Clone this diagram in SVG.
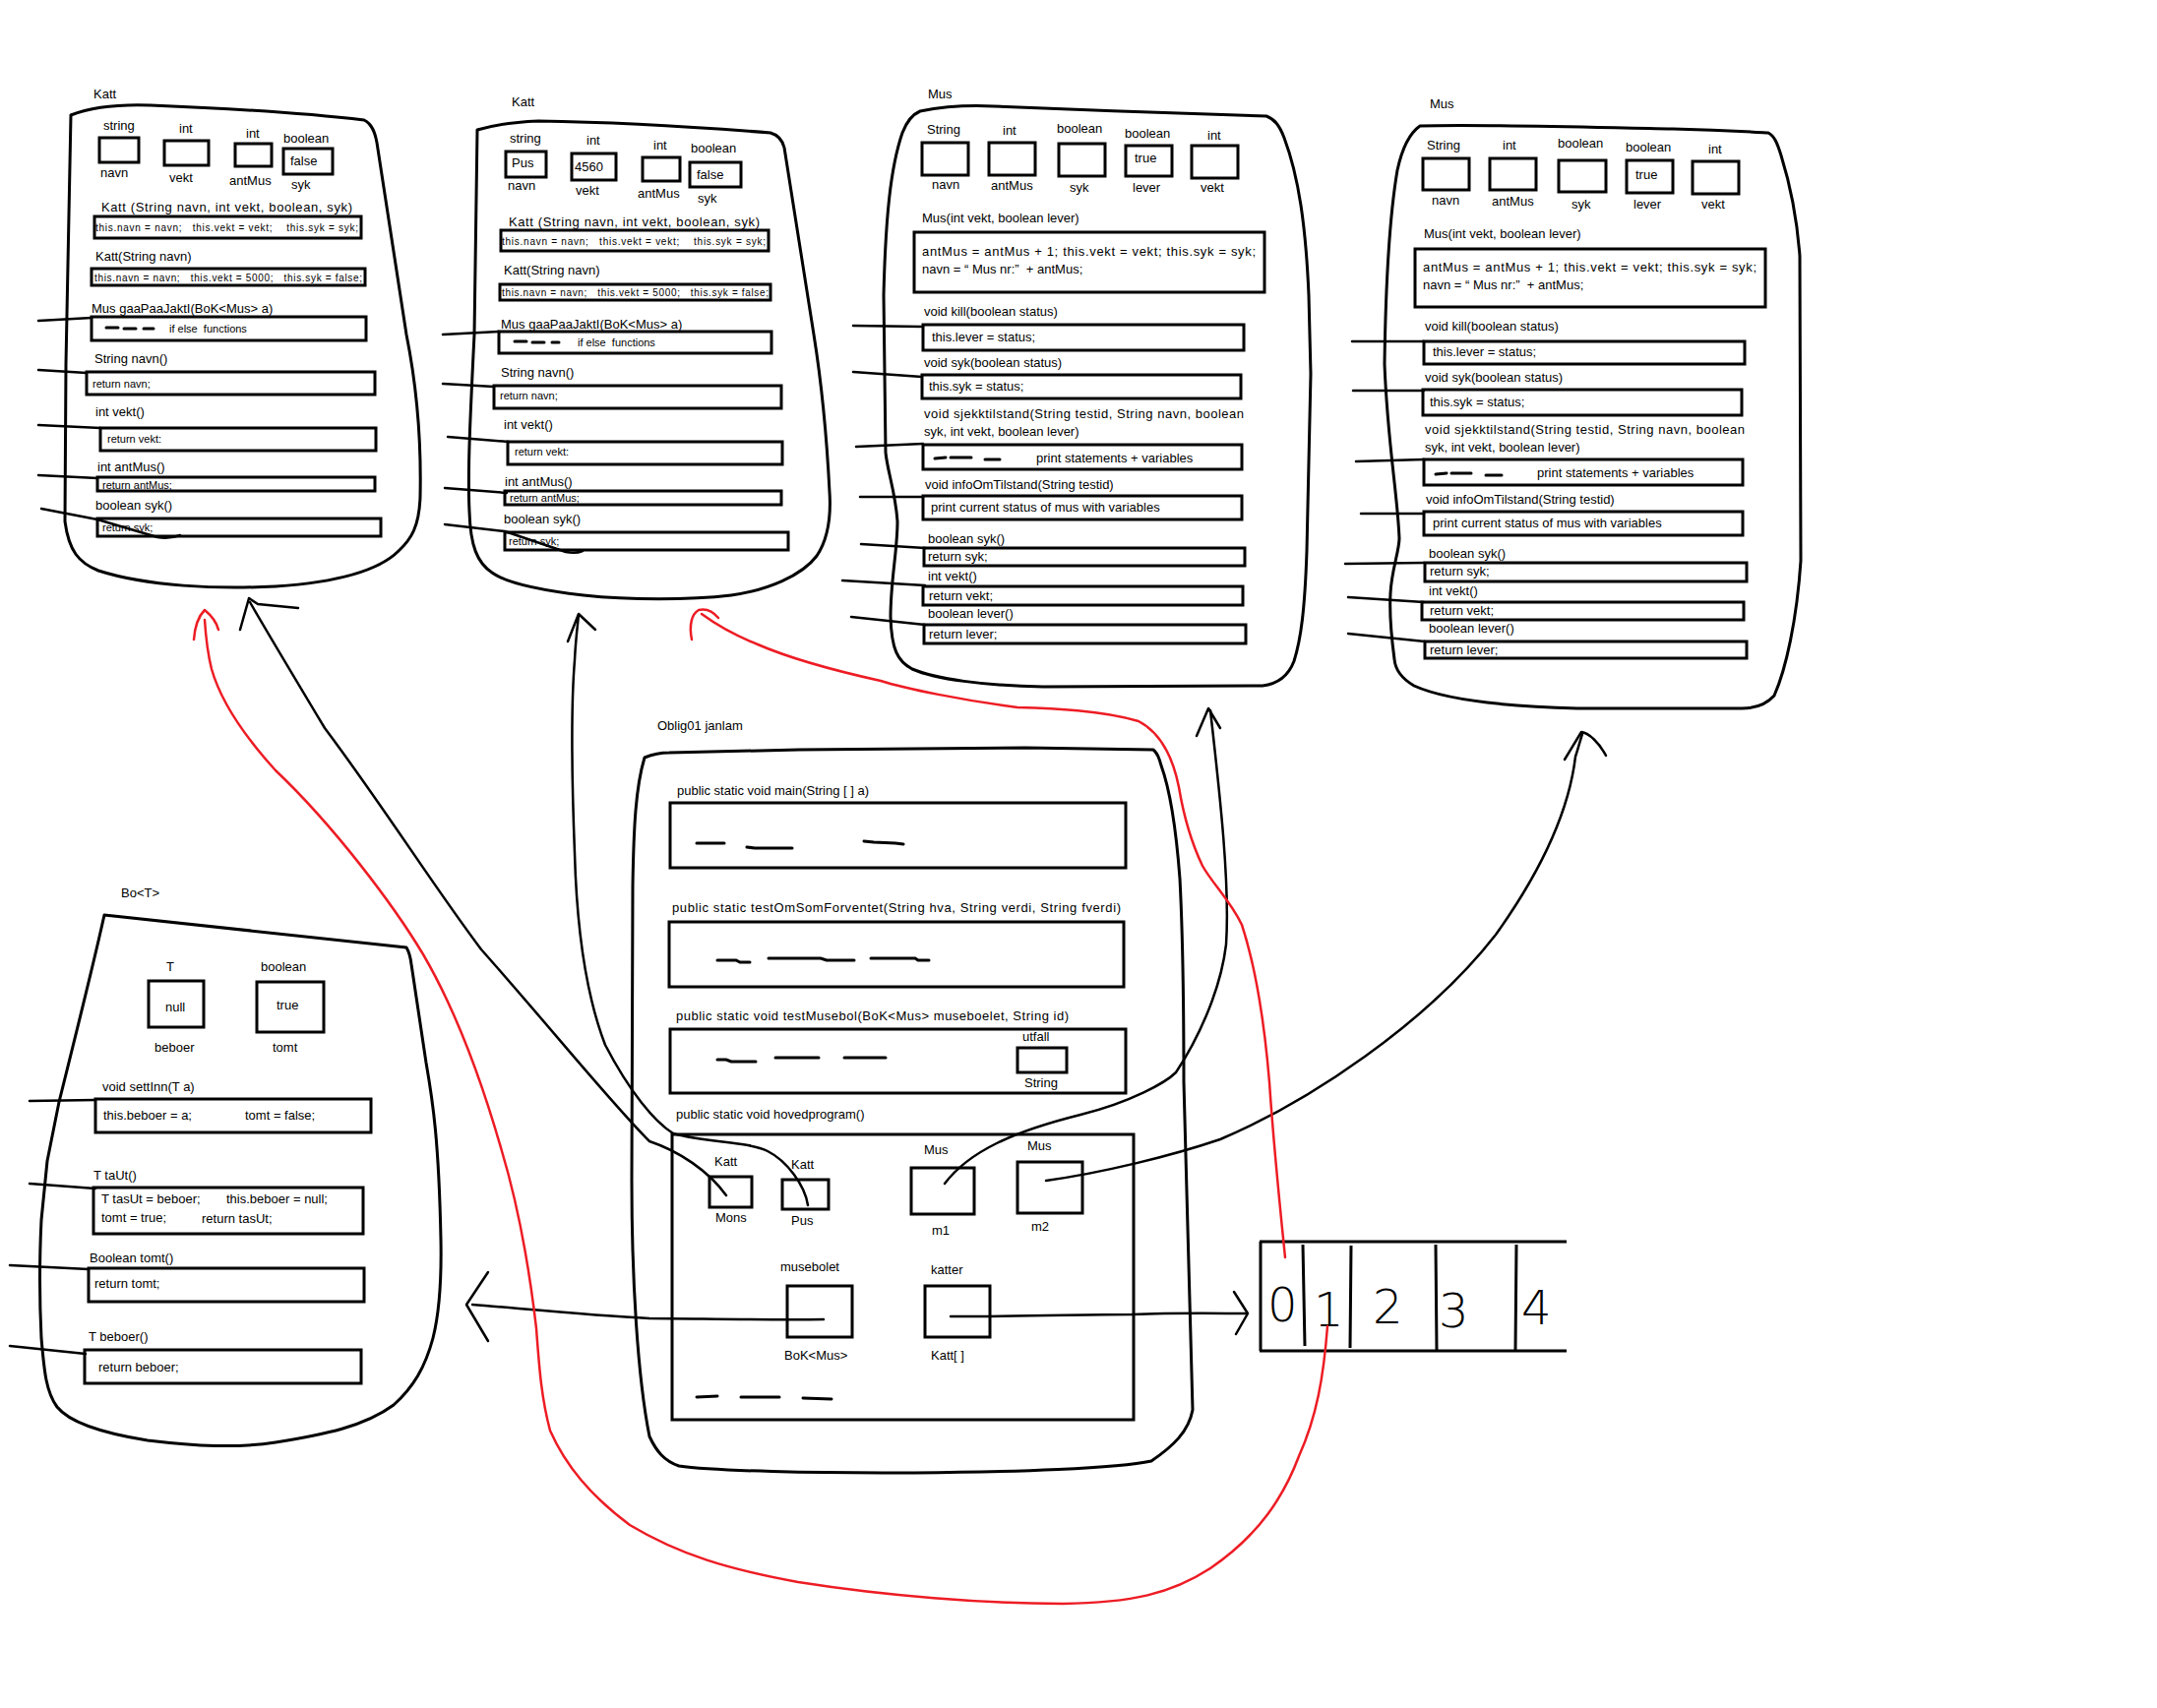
<svg xmlns="http://www.w3.org/2000/svg" width="2192" height="1736" viewBox="0 0 2192 1736">
<style>
text{font-family:"Liberation Sans",Arial,sans-serif;font-size:13px;fill:#000}
.s{font-size:11px}
.xs{font-size:10px}
.o{fill:none;stroke:#000;stroke-width:3;stroke-linejoin:round;stroke-linecap:round}
.b{fill:none;stroke:#000;stroke-width:3}
.c{fill:none;stroke:#000;stroke-width:2.5;stroke-linecap:round;stroke-linejoin:round}
.r{fill:none;stroke:#ed1c24;stroke-width:2.5;stroke-linecap:round;stroke-linejoin:round}
.d{fill:none;stroke:#000;stroke-width:3;stroke-linecap:round}
.dg{font-size:48px;font-family:"DejaVu Sans",sans-serif;font-weight:200}
</style>
<rect width="2192" height="1736" fill="#fff"/>

<g id="katt1">
<text x="95" y="100">Katt</text>
<path class="o" d="M72,117 C95,108 125,106 153,107 C230,110 320,116 370,122 C378,126 381,134 383,145 L413,340 C425,400 428,460 427,505 C426,535 418,548 405,560 C385,580 340,592 280,596 C220,599 150,596 100,580 C80,572 70,560 66,530 L67,370 Z"/>
<text x="105" y="132">string</text><rect class="b" x="101" y="140" width="40" height="25"/><text x="102" y="180">navn</text>
<text x="182" y="135">int</text><rect class="b" x="167" y="143" width="45" height="25"/><text x="172" y="185">vekt</text>
<text x="250" y="140">int</text><rect class="b" x="239" y="146" width="37" height="23"/><text x="233" y="188">antMus</text>
<text x="288" y="145">boolean</text><rect class="b" x="288" y="151" width="50" height="26"/><text x="295" y="168">false</text><text x="296" y="192">syk</text>
<text x="103" y="215" textLength="255">Katt (String navn, int vekt, boolean, syk)</text>
<rect class="b" x="96" y="220" width="271" height="22"/><text class="xs" x="97" y="235" textLength="267" xml:space="preserve">this.navn = navn;   this.vekt = vekt;    this.syk = syk;</text>
<text x="97" y="265">Katt(String navn)</text>
<rect class="b" x="93" y="273" width="278" height="17"/><text class="xs" x="96" y="286" textLength="272" xml:space="preserve">this.navn = navn;   this.vekt = 5000;   this.syk = false;</text>
<text x="93" y="318">Mus gaaPaaJaktI(BoK&lt;Mus&gt; a)</text>
<rect class="b" x="93" y="322" width="279" height="24"/><path class="d" d="M108,333 L120,333 M126,334 L138,334 M146,334 L156,334"/><text class="s" x="172" y="338" xml:space="preserve">if else  functions</text>
<text x="96" y="369">String navn()</text>
<rect class="b" x="88" y="378" width="293" height="23"/><text class="s" x="94" y="394">return navn;</text>
<text x="97" y="423">int vekt()</text>
<rect class="b" x="102" y="435" width="280" height="23"/><text class="s" x="109" y="450">return vekt:</text>
<text x="99" y="479">int antMus()</text>
<rect class="b" x="99" y="485" width="282" height="14"/><text class="s" x="104" y="497">return antMus;</text>
<text x="97" y="518">boolean syk()</text>
<rect class="b" x="99" y="527" width="288" height="18"/><text class="s" x="104" y="540">return syk;</text>
</g>

<g id="katt2">
<text x="520" y="108">Katt</text>
<path class="o" d="M485,132 C505,126 525,124 547,123 C620,124 720,130 783,135 C790,137 795,142 797,150 L827,340 C835,390 840,440 843,500 C845,530 840,550 830,565 C815,585 780,600 743,605 C700,610 640,610 593,605 C550,600 515,593 500,582 C485,572 478,555 477,520 C475,480 478,420 482,340 Z"/>
<text x="518" y="145">string</text><rect class="b" x="514" y="154" width="41" height="26"/><text x="520" y="170">Pus</text><text x="516" y="193">navn</text>
<text x="596" y="147">int</text><rect class="b" x="581" y="156" width="45" height="27"/><text x="584" y="174">4560</text><text x="585" y="198">vekt</text>
<text x="664" y="152">int</text><rect class="b" x="653" y="160" width="38" height="24"/><text x="648" y="201">antMus</text>
<text x="702" y="155">boolean</text><rect class="b" x="701" y="165" width="52" height="25"/><text x="708" y="182">false</text><text x="709" y="206">syk</text>
<text x="517" y="230" textLength="255">Katt (String navn, int vekt, boolean, syk)</text>
<rect class="b" x="509" y="234" width="272" height="21"/><text class="xs" x="510" y="249" textLength="268" xml:space="preserve">this.navn = navn;   this.vekt = vekt;    this.syk = syk;</text>
<text x="512" y="279">Katt(String navn)</text>
<rect class="b" x="508" y="289" width="275" height="16"/><text class="xs" x="510" y="301" textLength="271" xml:space="preserve">this.navn = navn;   this.vekt = 5000;   this.syk = false;</text>
<text x="509" y="334">Mus gaaPaaJaktI(BoK&lt;Mus&gt; a)</text>
<rect class="b" x="507" y="337" width="277" height="22"/><path class="d" d="M523,347 L535,347 M541,348 L553,348 M561,348 L568,348"/><text class="s" x="587" y="352" xml:space="preserve">if else  functions</text>
<text x="509" y="383">String navn()</text>
<rect class="b" x="502" y="392" width="292" height="23"/><text class="s" x="508" y="406">return navn;</text>
<text x="512" y="436">int vekt()</text>
<rect class="b" x="516" y="449" width="279" height="23"/><text class="s" x="523" y="463">return vekt:</text>
<text x="513" y="494">int antMus()</text>
<rect class="b" x="513" y="499" width="281" height="14"/><text class="s" x="518" y="510">return antMus;</text>
<text x="512" y="532">boolean syk()</text>
<rect class="b" x="513" y="541" width="288" height="18"/><text class="s" x="517" y="554">return syk;</text>
</g>

<g id="mus1">
<text x="943" y="100">Mus</text>
<path class="o" d="M935,113 C960,108 990,107 1010,108 C1100,112 1200,115 1287,118 C1295,121 1300,127 1305,140 C1320,180 1327,230 1330,300 L1332,380 L1328,560 C1326,620 1322,650 1315,672 C1310,685 1300,695 1283,697 L1060,698 C1000,697 950,690 927,680 C912,672 906,660 905,627 C905,590 912,560 912,530 C910,500 902,480 900,460 L898,300 C900,220 905,170 917,135 C922,122 928,116 935,113 Z"/>
<text x="942" y="136">String</text><rect class="b" x="937" y="145" width="47" height="33"/><text x="947" y="192">navn</text>
<text x="1019" y="137">int</text><rect class="b" x="1005" y="145" width="47" height="33"/><text x="1007" y="193">antMus</text>
<text x="1074" y="135">boolean</text><rect class="b" x="1076" y="146" width="47" height="33"/><text x="1087" y="195">syk</text>
<text x="1143" y="140">boolean</text><rect class="b" x="1144" y="148" width="47" height="31"/><text x="1153" y="165">true</text><text x="1151" y="195">lever</text>
<text x="1227" y="142">int</text><rect class="b" x="1211" y="148" width="47" height="33"/><text x="1220" y="195">vekt</text>
<text x="937" y="226">Mus(int vekt, boolean lever)</text>
<rect class="b" x="929" y="236" width="356" height="61"/>
<text x="937" y="260" textLength="339">antMus = antMus + 1; this.vekt = vekt; this.syk = syk;</text>
<text x="937" y="278" xml:space="preserve">navn = “ Mus nr:”  + antMus;</text>
<text x="939" y="321">void kill(boolean status)</text>
<rect class="b" x="938" y="330" width="326" height="26"/><text x="947" y="347">this.lever = status;</text>
<text x="939" y="373">void syk(boolean status)</text>
<rect class="b" x="937" y="381" width="324" height="24"/><text x="944" y="397">this.syk = status;</text>
<text x="939" y="425" textLength="325">void sjekktilstand(String testid, String navn, boolean</text>
<text x="939" y="443">syk, int vekt, boolean lever)</text>
<rect class="b" x="938" y="452" width="324" height="25"/><path class="d" d="M950,466 L961,465 M966,465 L987,465 M1001,467 L1016,467"/><text x="1053" y="470">print statements + variables</text>
<text x="940" y="497">void infoOmTilstand(String testid)</text>
<rect class="b" x="938" y="504" width="324" height="24"/><text x="946" y="520">print current status of mus with variables</text>
<text x="943" y="552">boolean syk()</text>
<rect class="b" x="939" y="557" width="326" height="18"/><text x="943" y="570">return syk;</text>
<text x="943" y="590">int vekt()</text>
<rect class="b" x="938" y="596" width="325" height="19"/><text x="944" y="610">return vekt;</text>
<text x="943" y="628">boolean lever()</text>
<rect class="b" x="939" y="635" width="327" height="19"/><text x="944" y="649">return lever;</text>
</g>

<g id="mus2">
<text x="1453" y="110">Mus</text>
<path class="o" d="M1443,128 C1500,126 1600,129 1700,131 C1750,132 1780,134 1797,135 C1803,138 1806,145 1810,158 C1820,190 1826,220 1829,260 L1830,570 C1826,630 1815,680 1803,707 C1795,716 1785,720 1770,720 L1603,720 C1530,718 1470,712 1437,697 C1425,690 1418,682 1417,670 C1413,640 1412,620 1413,603 C1414,580 1422,560 1422,547 C1420,500 1410,450 1407,370 C1408,300 1412,220 1420,173 C1425,150 1433,135 1443,128 Z"/>
<text x="1450" y="152">String</text><rect class="b" x="1446" y="161" width="47" height="32"/><text x="1455" y="208">navn</text>
<text x="1527" y="152">int</text><rect class="b" x="1514" y="161" width="47" height="32"/><text x="1516" y="209">antMus</text>
<text x="1583" y="150">boolean</text><rect class="b" x="1584" y="163" width="48" height="32"/><text x="1597" y="212">syk</text>
<text x="1652" y="154">boolean</text><rect class="b" x="1653" y="163" width="47" height="33"/><text x="1662" y="182">true</text><text x="1660" y="212">lever</text>
<text x="1736" y="156">int</text><rect class="b" x="1720" y="164" width="47" height="33"/><text x="1729" y="212">vekt</text>
<text x="1447" y="242">Mus(int vekt, boolean lever)</text>
<rect class="b" x="1438" y="253" width="356" height="59"/>
<text x="1446" y="276" textLength="339">antMus = antMus + 1; this.vekt = vekt; this.syk = syk;</text>
<text x="1446" y="294" xml:space="preserve">navn = “ Mus nr:”  + antMus;</text>
<text x="1448" y="336">void kill(boolean status)</text>
<rect class="b" x="1447" y="347" width="326" height="23"/><text x="1456" y="362">this.lever = status;</text>
<text x="1448" y="388">void syk(boolean status)</text>
<rect class="b" x="1446" y="396" width="324" height="26"/><text x="1453" y="413">this.syk = status;</text>
<text x="1448" y="441" textLength="325">void sjekktilstand(String testid, String navn, boolean</text>
<text x="1448" y="459">syk, int vekt, boolean lever)</text>
<rect class="b" x="1447" y="467" width="324" height="26"/><path class="d" d="M1459,482 L1470,481 M1475,481 L1495,481 M1510,483 L1526,483"/><text x="1562" y="485">print statements + variables</text>
<text x="1449" y="512">void infoOmTilstand(String testid)</text>
<rect class="b" x="1447" y="520" width="324" height="24"/><text x="1456" y="536">print current status of mus with variables</text>
<text x="1452" y="567">boolean syk()</text>
<rect class="b" x="1448" y="572" width="327" height="19"/><text x="1453" y="585">return syk;</text>
<text x="1452" y="605">int vekt()</text>
<rect class="b" x="1445" y="612" width="327" height="18"/><text x="1453" y="625">return vekt;</text>
<text x="1452" y="643">boolean lever()</text>
<rect class="b" x="1448" y="652" width="327" height="17"/><text x="1453" y="665">return lever;</text>
</g>

<g id="bo">
<text x="123" y="912">Bo&lt;T&gt;</text>
<path class="o" d="M106,930 L413,963 C416,968 417,972 418,980 L433,1080 C440,1120 446,1160 448,1260 C449,1310 445,1340 440,1360 C432,1390 420,1410 400,1428 C370,1450 330,1458 280,1466 C240,1472 200,1470 150,1464 C100,1456 70,1445 58,1430 C47,1415 45,1395 42,1360 C40,1320 40,1280 42,1240 L48,1180 L60,1120 C75,1060 95,980 106,930 Z"/>
<text x="169" y="987">T</text><rect class="b" x="151" y="997" width="56" height="47"/><text x="168" y="1028">null</text><text x="157" y="1069">beboer</text>
<text x="265" y="987">boolean</text><rect class="b" x="261" y="998" width="68" height="51"/><text x="281" y="1026">true</text><text x="277" y="1069">tomt</text>
<text x="104" y="1109">void settInn(T a)</text>
<rect class="b" x="97" y="1117" width="280" height="34"/><text x="105" y="1138">this.beboer = a;</text><text x="249" y="1138">tomt = false;</text>
<text x="95" y="1199">T taUt()</text>
<rect class="b" x="95" y="1207" width="274" height="47"/>
<text x="103" y="1223">T tasUt = beboer;</text><text x="230" y="1223">this.beboer = null;</text>
<text x="103" y="1242">tomt = true;</text><text x="205" y="1243">return tasUt;</text>
<text x="91" y="1283">Boolean tomt()</text>
<rect class="b" x="90" y="1289" width="280" height="34"/><text x="96" y="1309">return tomt;</text>
<text x="90" y="1363">T beboer()</text>
<rect class="b" x="86" y="1372" width="281" height="34"/><text x="100" y="1394">return beboer;</text>
</g>

<g id="oblig01">
<text x="668" y="742">Oblig01 janlam</text>
<path class="o" d="M655,770 C665,766 672,765 680,765 L812,762 L1042,760 L1172,762 C1176,765 1178,770 1180,778 C1188,800 1195,840 1199,893 C1202,950 1203,1030 1203,1100 L1212,1433 C1208,1455 1192,1470 1170,1485 C1100,1500 760,1500 690,1490 C675,1485 667,1475 660,1460 C648,1400 642,1300 642,1200 L643,900 C644,840 646,800 655,770 Z"/>
<text x="688" y="808">public static void main(String [ ] a)</text>
<rect class="b" x="681" y="816" width="463" height="66"/>
<path class="d" d="M708,857 L736,857 M759,861 L767,862 L805,862 M878,855 L888,856 L910,857 L918,858"/>
<text x="683" y="927" textLength="456">public static testOmSomForventet(String hva, String verdi, String fverdi)</text>
<rect class="b" x="680" y="937" width="462" height="66"/>
<path class="d" d="M729,976 L748,976 L752,978 L762,978 M781,974 L834,974 L840,976 L868,976 M885,974 L930,974 L933,976 L944,976"/>
<text x="687" y="1037" textLength="399">public static void testMusebol(BoK&lt;Mus&gt; museboelet, String id)</text>
<rect class="b" x="681" y="1046" width="463" height="65"/>
<path class="d" d="M729,1077 L738,1077 L743,1079 L768,1079 M788,1075 L832,1075 M858,1075 L900,1075"/>
<text x="1039" y="1058">utfall</text>
<rect class="b" x="1034" y="1065" width="50" height="25"/>
<text x="1041" y="1105">String</text>
<text x="687" y="1137">public static void hovedprogram()</text>
<rect class="b" x="683" y="1153" width="469" height="290"/>
<text x="726" y="1185">Katt</text><rect class="b" x="721" y="1196" width="43" height="31"/><text x="727" y="1242">Mons</text>
<text x="804" y="1188">Katt</text><rect class="b" x="795" y="1199" width="47" height="30"/><text x="804" y="1245">Pus</text>
<text x="939" y="1173">Mus</text><rect class="b" x="926" y="1187" width="64" height="47"/><text x="947" y="1255">m1</text>
<text x="1044" y="1169">Mus</text><rect class="b" x="1034" y="1181" width="66" height="52"/><text x="1048" y="1251">m2</text>
<text x="793" y="1292">musebolet</text><rect class="b" x="800" y="1307" width="66" height="52"/><text x="797" y="1382">BoK&lt;Mus&gt;</text>
<text x="946" y="1295">katter</text><rect class="b" x="940" y="1307" width="66" height="52"/><text x="946" y="1382">Katt[ ]</text>
<path class="d" d="M708,1420 L729,1419 M753,1420 L792,1420 M816,1421 L845,1422"/>
</g>

<g id="array">
<path class="b" d="M1280,1262 L1592,1262 M1280,1373 L1592,1373 M1281,1262 L1281,1373 M1324,1265 L1326,1368 M1373,1266 L1372,1370 M1459,1265 L1460,1372 M1541,1265 L1540,1372"/>
<text class="dg" x="1288" y="1343">0</text>
<text class="dg" x="1335" y="1348">1</text>
<text class="dg" x="1395" y="1345">2</text>
<text class="dg" x="1462" y="1349">3</text>
<text class="dg" x="1546" y="1346">4</text>
</g>

<g id="connectors">
<path class="c" d="M39,326 L93,323"/>
<path class="c" d="M39,376 L88,379"/>
<path class="c" d="M39,432 L102,435"/>
<path class="c" d="M39,483 L99,486"/>
<path class="c" d="M42,517 L99,528 L160,546 Q172,548 183,544"/>
<path class="c" d="M450,340 L507,337"/>
<path class="c" d="M450,390 L502,393"/>
<path class="c" d="M455,444 L517,449"/>
<path class="c" d="M452,496 L515,501"/>
<path class="c" d="M452,533 L513,540 L575,561 Q585,563 592,560"/>
<path class="c" d="M867,331 L938,332"/>
<path class="c" d="M867,378 L937,383"/>
<path class="c" d="M870,454 L938,451"/>
<path class="c" d="M874,505 L938,505"/>
<path class="c" d="M875,553 L940,557"/>
<path class="c" d="M856,590 L940,595"/>
<path class="c" d="M865,627 L940,635"/>
<path class="c" d="M1374,347 L1447,347"/>
<path class="c" d="M1375,397 L1447,397"/>
<path class="c" d="M1378,469 L1447,467"/>
<path class="c" d="M1383,522 L1447,522"/>
<path class="c" d="M1367,573 L1447,572"/>
<path class="c" d="M1370,607 L1447,612"/>
<path class="c" d="M1370,644 L1448,652"/>
<path class="c" d="M30,1119 L97,1118"/>
<path class="c" d="M30,1203 L97,1208"/>
<path class="c" d="M10,1286 L90,1290"/>
<path class="c" d="M10,1368 L87,1376"/>
<path class="c" d="M738,1215 C720,1190 690,1170 660,1160 C620,1120 560,1045 489,965 C440,900 390,820 330,740 C300,690 270,640 254,612"/>
<path class="c" d="M244,640 L253,608 L262,614 L303,618"/>
<path class="c" d="M821,1225 C818,1205 800,1180 780,1170 C760,1160 720,1162 684,1152 C665,1140 640,1110 615,1062 C595,1010 586,940 584,867 C581,790 580,720 584,671 C585,650 587,635 588,625"/>
<path class="c" d="M577,652 L588,624 L605,640"/>
<path class="c" d="M960,1203 C985,1170 1030,1150 1098,1133 C1150,1120 1185,1100 1195,1090 C1215,1060 1240,1010 1246,960 C1250,900 1240,810 1230,722"/>
<path class="c" d="M1216,748 L1228,720 L1240,740"/>
<path class="c" d="M1063,1200 C1120,1192 1190,1175 1240,1158 C1330,1120 1450,1040 1520,950 C1570,880 1595,820 1601,769 C1604,760 1606,752 1608,746"/>
<path class="c" d="M1590,772 L1607,744 C1615,745 1625,755 1632,768"/>
<path class="c" d="M837,1341 C780,1342 700,1340 660,1340 C600,1337 530,1330 480,1326"/>
<path class="c" d="M496,1293 L474,1326 L496,1363"/>
<path class="c" d="M966,1338 C1050,1338 1100,1336 1150,1336 C1200,1334 1240,1335 1267,1335"/>
<path class="c" d="M1254,1313 L1268,1335 L1256,1356"/>
<path class="r" d="M1306,1278 C1300,1220 1294,1160 1290,1100 C1285,1040 1275,980 1262,940 C1250,915 1232,898 1222,880 C1210,855 1203,830 1198,800 C1192,770 1180,745 1157,733 C1120,722 1070,720 1034,719 C980,712 920,700 895,692 C850,682 800,668 770,655 C745,645 728,635 713,624"/>
<path class="r" d="M703,650 C700,635 703,624 710,620 C718,618 725,622 730,628"/>
<path class="r" d="M1349,1348 C1345,1400 1338,1440 1320,1480 C1305,1520 1280,1560 1230,1594 C1190,1620 1150,1629 1080,1630 C1000,1630 900,1622 811,1608 C740,1595 690,1580 640,1550 C600,1520 575,1490 559,1454 C550,1420 548,1390 545,1350 C538,1290 528,1230 510,1170 C490,1100 465,1030 430,970 C400,920 340,840 280,783 C250,750 225,715 215,680 C210,660 209,645 208,630"/>
<path class="r" d="M197,650 C198,637 202,626 208,620 C214,625 220,632 222,640"/>
</g>
</svg>
